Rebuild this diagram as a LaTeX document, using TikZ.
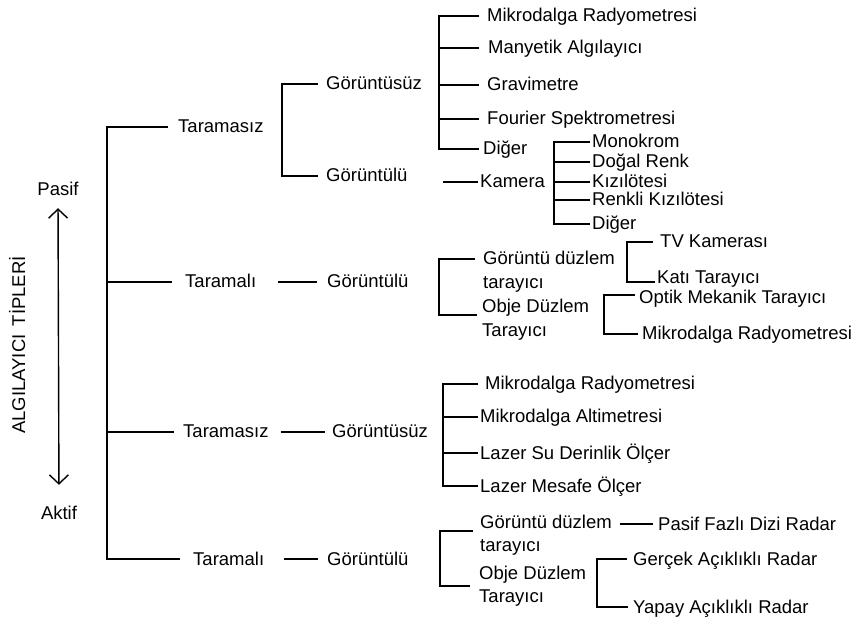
\documentclass[tikz,border=0pt]{standalone}
\usepackage{fontspec}
\setmainfont{Liberation Sans}
\usetikzlibrary{arrows.meta,calc}
\begin{document}
\begin{tikzpicture}[x=1pt,y=1pt,
  lbl/.style={inner sep=0pt, anchor=west, font=\fontsize{18.5}{23.5}\selectfont,
              text height=14pt, text depth=2pt},
  lbltwo/.style={inner sep=0pt, anchor=base west, font=\fontsize{18.5}{23.5}\selectfont},
  link/.style={line width=1.7pt, black},
  axis/.style={line width=1.4pt, black,
     {Straight Barb[length=9pt,width=19pt]}-{Straight Barb[length=9pt,width=19pt]}}]
\fill[white] (0,0) rectangle (860,-628);
\useasboundingbox (0,0) rectangle (860,-628);

% side title and the passive/active axis
\node[lbl, anchor=center, rotate=90] (title) at (19,-345) {ALGILAYICI\hspace{0.45em}TİPLERİ};
\node[lbl, anchor=center] (pasif) at (58,-190) {Pasif};
\node[lbl, anchor=center] (aktif) at (59,-513) {Aktif};
\draw[axis, shorten <=10pt, shorten >=20pt] (pasif.south) -- (aktif.north);

% spine x positions
\coordinate (trunk) at (107,0);
\coordinate (spA) at (282,0);
\coordinate (spB) at (439,0);
\coordinate (spC) at (554,0);
\coordinate (spD) at (439,0);
\coordinate (spE) at (627,0);
\coordinate (spF) at (604,0);
\coordinate (spG) at (443,0);
\coordinate (spH) at (440,0);
\coordinate (spI) at (597,0);

% first level
\node[lbl] (pt1) at (178,-127) {Taramasız};
\node[lbl] (pl1) at (185,-282) {Taramalı};
\node[lbl] (at1) at (183,-432) {Taramasız};
\node[lbl] (al1) at (193,-559) {Taramalı};
\draw[link] ([xshift=-10pt]pt1.west) -| (trunk |- al1.west) -- ([xshift=-13pt]al1.west);
\draw[link] (trunk |- pl1.west) -- ([xshift=-13pt]pl1.west);
\draw[link] (trunk |- at1.west) -- ([xshift=-9pt]at1.west);

% second level
\node[lbl] (pgs) at (326,-84) {Görüntüsüz};
\node[lbl] (pgl) at (326,-176) {Görüntülü};
\draw[link] ([xshift=-8pt]pgs.west) -| (spA |- pgl.west) -- ([xshift=-8pt]pgl.west);

\node[lbl] (pg) at (327,-282) {Görüntülü};
\draw[link, shorten <=22pt, shorten >=10pt] (pl1.east) -- (pg.west);
\node[lbl] (ag) at (332,-432) {Görüntüsüz};
\draw[link, shorten <=12pt, shorten >=7pt] (at1.east) -- (ag.west);
\node[lbl] (ag2) at (327,-559) {Görüntülü};
\draw[link, shorten <=20pt, shorten >=9pt] (al1.east) -- (ag2.west);

% passive, non-scanning, non-imaging
\node[lbl] (m1) at (487,-16) {Mikrodalga Radyometresi};
\node[lbl] (m2) at (488,-48) {Manyetik Algılayıcı};
\node[lbl] (m3) at (487,-85) {Gravimetre};
\node[lbl] (m4) at (487,-119) {Fourier Spektrometresi};
\node[lbl] (m5) at (483,-149) {Diğer};
\draw[link] ([xshift=-8pt]m1.west) -| (spB |- m5.west) -- ([xshift=-4pt]m5.west);
\draw[link] (spB |- m2.west) -- ([xshift=-9pt]m2.west);
\draw[link] (spB |- m3.west) -- ([xshift=-8pt]m3.west);
\draw[link] (spB |- m4.west) -- ([xshift=-8pt]m4.west);

% passive, non-scanning, imaging
\node[lbl] (kam) at (480,-182) {Kamera};
\draw[link, shorten <=35pt, shorten >=2pt] (pgl.east |- kam.west) -- (kam.west);
\node[lbl] (k1) at (592,-142) {Monokrom};
\node[lbl] (k2) at (592,-162) {Doğal Renk};
\node[lbl] (k3) at (592,-182) {Kızılötesi};
\node[lbl] (k4) at (592,-200) {Renkli Kızılötesi};
\node[lbl] (k5) at (592,-224) {Diğer};
\draw[link] ([xshift=-2pt]k1.west) -| (spC |- k5.west) -- ([xshift=-2pt]k5.west);
\draw[link] (spC |- k2.west) -- ([xshift=-2pt]k2.west);
\draw[link] (spC |- k3.west) -- ([xshift=-2pt]k3.west);
\draw[link] (spC |- k4.west) -- ([xshift=-2pt]k4.west);

% passive, scanning
\node[lbltwo] (ptd) at (483,-265) {\begin{tabular}[t]{@{}l@{}}Görüntü düzlem\\tarayıcı\end{tabular}};
\node[lbltwo] (pod) at (482,-313) {\begin{tabular}[t]{@{}l@{}}Obje Düzlem\\Tarayıcı\end{tabular}};
\coordinate (ptdArm) at ($(ptd.base west)+(-8,6)$);
\coordinate (podArm) at ($(pod.base west)+(-5,-2)$);
\draw[link] (ptdArm) -| (spD |- podArm) -- (podArm);

\node[lbl] (tv) at (660,-242) {TV Kamerası};
\node[lbl] (kt) at (657,-278) {Katı Tarayıcı};
\draw[link] ([xshift=-7pt]tv.west) -| (spE |- 0,-282) -- ([xshift=-2pt]kt.west |- 0,-282);

\node[lbl] (om) at (639,-298) {Optik Mekanik Tarayıcı};
\node[lbl] (mr) at (642,-334) {Mikrodalga Radyometresi};
\draw[link] ([xshift=-4pt]om.west |- 0,-295) -| (spF |- mr.west) -- ([xshift=-4pt]mr.west);

% active, non-scanning
\node[lbl] (a1) at (485,-384) {Mikrodalga Radyometresi};
\node[lbl] (a2) at (480,-417) {Mikrodalga Altimetresi};
\node[lbl] (a3) at (480,-453) {Lazer Su Derinlik Ölçer};
\node[lbl] (a4) at (480,-486) {Lazer Mesafe Ölçer};
\draw[link] ([xshift=-7pt]a1.west) -| (spG |- a4.west) -- ([xshift=-2pt]a4.west);
\draw[link] (spG |- a2.west) -- ([xshift=-2pt]a2.west);
\draw[link] (spG |- a3.west) -- ([xshift=-2pt]a3.west);

% active, scanning
\node[lbltwo] (agd) at (480,-528) {\begin{tabular}[t]{@{}l@{}}Görüntü düzlem\\tarayıcı\end{tabular}};
\node[lbltwo] (aod) at (479,-579) {\begin{tabular}[t]{@{}l@{}}Obje Düzlem\\Tarayıcı\end{tabular}};
\coordinate (agdArm) at ($(agd.base west)+(-7,-3)$);
\coordinate (aodArm) at ($(aod.base west)+(-9,-7)$);
\draw[link] (agdArm) -| (spH |- aodArm) -- (aodArm);

\node[lbl] (pfd) at (658,-524) {Pasif Fazlı Dizi Radar};
\draw[link, shorten <=8pt, shorten >=5pt] (agd.east |- pfd.west) -- (pfd.west);

\node[lbl] (gar) at (633,-559) {Gerçek Açıklıklı Radar};
\node[lbl] (yar) at (633,-607) {Yapay Açıklıklı Radar};
\draw[link] ([xshift=-6pt]gar.west) -| (spI |- yar.west) -- ([xshift=-5pt]yar.west);
\end{tikzpicture}
\end{document}
